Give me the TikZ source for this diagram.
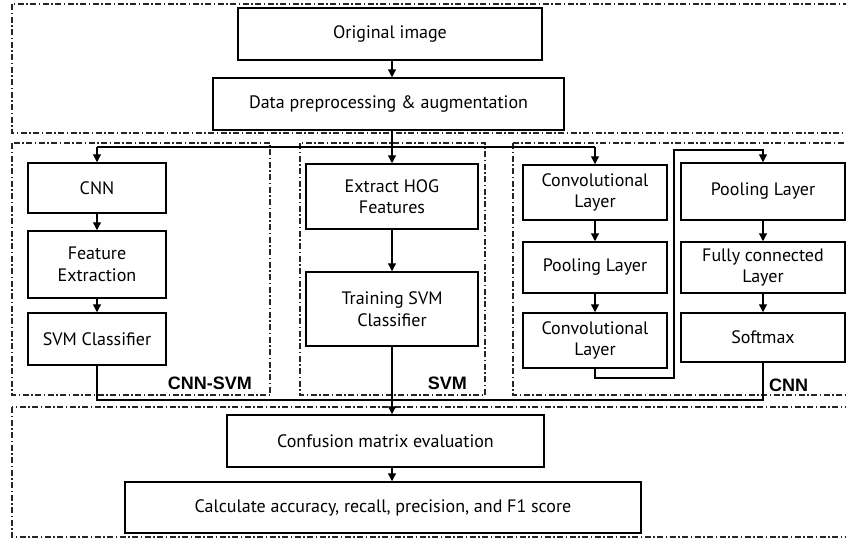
\documentclass[tikz,border=0pt]{standalone}
\usepackage{fontspec}
\setmainfont{PT Sans}
\newfontfamily\tagfont{Liberation Sans}
\usetikzlibrary{arrows.meta}

\begin{document}
\begin{tikzpicture}[x=1pt,y=-1pt,
  box/.style={draw,line width=1.5pt,inner sep=0pt,align=center,
    font=\fontsize{18}{21.5}\selectfont},
  region/.style={line width=1.1pt,black!85,
    dash pattern=on 6pt off 2.5pt on 1.5pt off 2.5pt},
  ln/.style={line width=1.3pt},
  arr/.style={line width=1.3pt,-{Triangle[width=8pt,length=8pt]}},
  tag/.style={inner sep=0pt,anchor=base east,font=\tagfont\bfseries\fontsize{18}{21}\selectfont}]

\useasboundingbox (0,0) rectangle (846,539);
\clip (0,0) rectangle (846,539);

% dash-dot grouping frames
\draw[region] (12,4) rectangle (870,133);
\draw[region] (12,143) rectangle (270,395);
\draw[region] (300,143) rectangle (485,395);
\draw[region] (513,143) rectangle (870,395);
\draw[region] (12,407) rectangle (870,537);

% input stages
\node[box,minimum width=304,minimum height=52] (orig) at (390,34) {Original image};
\node[box,minimum width=351,minimum height=52] (prep) at (388.5,104) {Data preprocessing \& augmentation};

% CNN-SVM branch
\node[box,minimum width=138,minimum height=50] (cnn)  at (97,188)   {CNN};
\node[box,minimum width=138,minimum height=67] (feat) at (97,264.5) {Feature\\Extraction};
\node[box,minimum width=138,minimum height=52] (svmc) at (97,339)   {SVM Classifier};

% SVM branch
\node[box,minimum width=172,minimum height=65] (hog)   at (392,196.5) {Extract HOG\\Features};
\node[box,minimum width=172,minimum height=74] (train) at (392,309)   {Training SVM\\Classifier};

% CNN branch
\node[box,minimum width=144,minimum height=55] (conv1) at (595,192.5) {Convolutional\\Layer};
\node[box,minimum width=144,minimum height=51] (pool1) at (595,267.5) {Pooling Layer};
\node[box,minimum width=144,minimum height=55] (conv2) at (595,340.5) {Convolutional\\Layer};
\node[box,minimum width=164,minimum height=57] (pool2) at (763,191.5) {Pooling Layer};
\node[box,minimum width=164,minimum height=51] (fc)    at (763,267.5) {Fully connected\\Layer};
\node[box,minimum width=164,minimum height=49] (soft)  at (763,337.5) {Softmax};

% evaluation stages
\node[box,minimum width=317,minimum height=52] (conf) at (385.5,441) {Confusion matrix evaluation};
\node[box,minimum width=516,minimum height=51] (calc) at (383,507.5) {Calculate accuracy, recall, precision, and F1 score};

% branch labels
\node[tag] (tagcs)  at (252,389) {CNN-SVM};
\node[tag] (tagsvm) at (467,389) {SVM};
\node[tag,anchor=base west] (tagcnn) at (769,391) {CNN};

% routing points
\coordinate (spine) at (392,0);
\coordinate (fork) at (392,147);
\coordinate (riserlow) at (674,378);
\coordinate (risertop) at (674,150);
\coordinate (merge) at (392,400);

% connectors
\draw[arr] (orig.south -| spine) -- (prep.north -| spine);
\draw[arr] (prep.south -| spine) -- (hog.north);
\draw[ln] (cnn.north |- fork) -- (conv1.north |- fork);
\draw[arr] (cnn.north |- fork) -- (cnn.north);
\draw[arr] (conv1.north |- fork) -- (conv1.north);

\draw[arr] (cnn) -- (feat);
\draw[arr] (feat) -- (svmc);
\draw[arr] (hog) -- (train);
\draw[arr] (conv1) -- (pool1);
\draw[arr] (pool1) -- (conv2);
\draw[arr] (conv2.south) |- (riserlow) -- (risertop) -| (pool2.north);
\draw[arr] (pool2) -- (fc);
\draw[arr] (fc) -- (soft);

\draw[ln] (svmc.south) |- (merge -| soft.south) -- (soft.south);
\draw[arr] (train.south) -- (conf.north -| spine);
\draw[arr] (conf.south -| spine) -- (calc.north -| spine);
\end{tikzpicture}
\end{document}
